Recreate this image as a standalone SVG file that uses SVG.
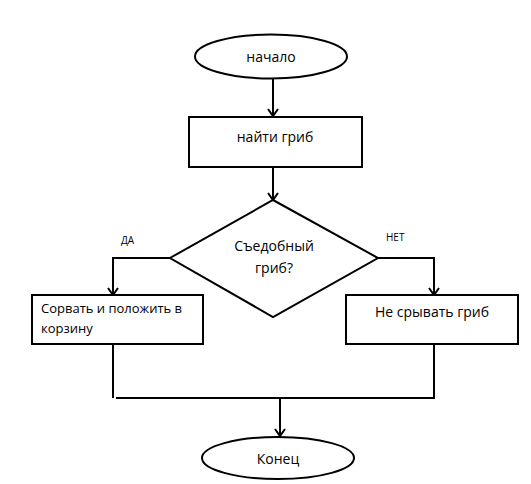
<svg xmlns="http://www.w3.org/2000/svg" width="531" height="484" viewBox="0 0 531 484">
<defs>
<style>
.s{fill:#fff;stroke:#000;stroke-width:2}
.c{fill:none;stroke:#000;stroke-width:2}
.t{font-family:"Open Sans","Liberation Sans",sans-serif;font-size:14px;fill:#000}
.m{text-anchor:middle}
.sm{font-family:"Open Sans","Liberation Sans",sans-serif;font-size:10px;fill:#000}
</style>
<marker id="a" markerWidth="12" markerHeight="12" refX="10" refY="6" orient="auto" markerUnits="userSpaceOnUse" viewBox="0 0 12 12">
<polyline points="3,1 10,6 3,11" fill="none" stroke="#000" stroke-width="2"/>
</marker>
</defs>
<rect width="531" height="484" fill="#fff"/>
<g id="connectors">
<line class="c" x1="273" y1="79" x2="273" y2="116" marker-end="url(#a)"/>
<line class="c" x1="273" y1="167" x2="273" y2="200" marker-end="url(#a)"/>
<polyline class="c" points="170,258 113,258 113,295" marker-end="url(#a)"/>
<polyline class="c" points="378,258 434,258 434,295" marker-end="url(#a)"/>
<line class="c" x1="113" y1="344" x2="113" y2="398"/>
<line class="c" x1="434" y1="344" x2="434" y2="399"/>
<line class="c" x1="116" y1="398" x2="435" y2="398"/>
<line class="c" x1="280" y1="398" x2="280" y2="436" marker-end="url(#a)"/>
<text class="sm" x="121" y="244">ДА</text>
<text class="sm" x="386" y="241">НЕТ</text>
</g>
<g id="start">
<ellipse class="s" cx="271" cy="56.5" rx="76" ry="22"/>
<text class="t m" x="271" y="62">начало</text>
</g>
<g id="find">
<rect class="s" x="189" y="117" width="173" height="50"/>
<text class="t m" x="275" y="142">найти гриб</text>
</g>
<g id="decision">
<polygon class="s" points="273,200 378,258 273,317 170,258"/>
<text class="t m" x="274" y="251">Съедобный</text>
<text class="t m" x="274" y="273">гриб?</text>
</g>
<g id="yes">
<rect class="s" x="32" y="295" width="171" height="49"/>
<text class="t" x="41" y="313" style="font-size:13px">Сорвать и положить в</text>
<text class="t" x="41" y="333" style="font-size:13px">корзину</text>
</g>
<g id="no">
<rect class="s" x="346" y="295" width="172" height="49"/>
<text class="t m" x="432" y="317">Не срывать гриб</text>
</g>
<g id="end">
<ellipse class="s" cx="278" cy="458" rx="76" ry="21"/>
<text class="t m" x="278" y="464">Конец</text>
</g>
</svg>
